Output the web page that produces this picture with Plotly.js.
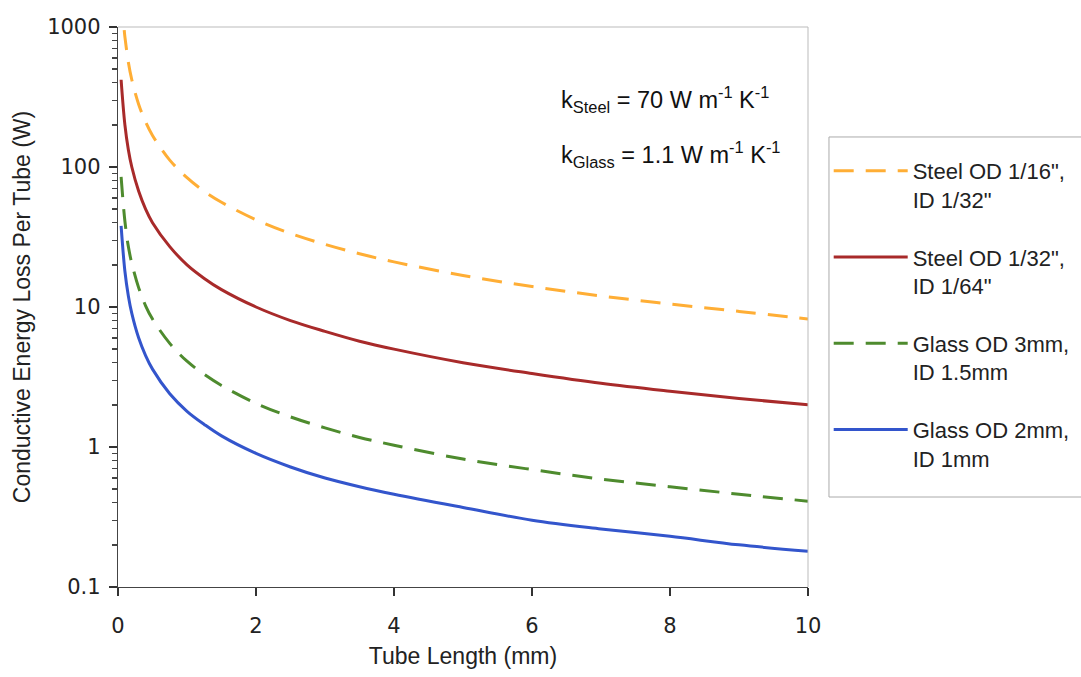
<!DOCTYPE html>
<html>
<head>
<meta charset="utf-8">
<script src="https://cdn.plot.ly/plotly-3.0.1.min.js"></script>
<style>html,body{margin:0;padding:0;background:#fff;}#chart{width:1081px;height:677px;}</style>
</head>
<body>
<div id="chart"></div>
<script>
// Tube length (mm)
const xSteel16 = [0.09, 0.1, 0.15, 0.2, 0.3, 0.4, 0.5, 0.75, 1, 1.25, 1.5, 2, 2.5, 3, 3.5, 4, 5, 6, 7, 8, 9, 10];
const xOther   = [0.045, 0.1, 0.15, 0.2, 0.3, 0.4, 0.5, 0.75, 1, 1.25, 1.5, 2, 2.5, 3, 3.5, 4, 5, 6, 7, 8, 9, 10];
// Conductive energy loss per tube (W)
const steel16 = [950, 850, 560, 420, 280, 210, 168, 112, 84, 67, 56, 42, 33.5, 28, 24, 21, 16.8, 14, 12, 10.5, 9.3, 8.2];
const steel32 = [420, 200, 133, 100, 67, 50, 40, 27, 20, 16, 13.3, 10, 8, 6.7, 5.7, 5, 4, 3.35, 2.85, 2.5, 2.22, 2.0];
const glass3  = [85, 41, 27, 20.5, 13.7, 10.2, 8.2, 5.5, 4.1, 3.3, 2.75, 2.05, 1.64, 1.37, 1.17, 1.03, 0.82, 0.69, 0.59, 0.52, 0.46, 0.41];
const glass2  = [38, 18, 12, 9, 6, 4.5, 3.6, 2.4, 1.8, 1.45, 1.2, 0.9, 0.72, 0.6, 0.52, 0.46, 0.37, 0.3, 0.26, 0.23, 0.2, 0.18];
const seriesNames = ['Steel OD 1/16",<br>ID 1/32"', 'Steel OD 1/32",<br>ID 1/64"', 'Glass OD 3mm,<br>ID 1.5mm', 'Glass OD 2mm,<br>ID 1mm'];
const xTickVals = [0, 2, 4, 6, 8, 10];
const yTickVals = [0.1, 1, 10, 100, 1000];
const yTickText = ['0.1', '1', '10', '100', '1000'];
const yMinorVals = [0.2,0.3,0.4,0.5,0.6,0.7,0.8,0.9, 2,3,4,5,6,7,8,9, 20,30,40,50,60,70,80,90, 200,300,400,500,600,700,800,900];

const tickFont = {family: '"DejaVu Sans", sans-serif', size: 21, color: '#222'};
const textFamily = '"Liberation Sans", Arial, sans-serif';
const traces = [
  {x: xSteel16, y: steel16, name: seriesNames[0], legendgroup: 'a', mode: 'lines', line: {color: '#FFAE35', width: 3, dash: '20px,12px', shape: 'spline'}},
  {x: xOther, y: steel32, name: seriesNames[1], legendgroup: 'b', mode: 'lines', line: {color: '#A82A2A', width: 3, shape: 'spline'}},
  {x: xOther, y: glass3, name: seriesNames[2], legendgroup: 'c', mode: 'lines', line: {color: '#4E8B2E', width: 3, dash: '20px,12px', shape: 'spline'}},
  {x: xOther, y: glass2, name: seriesNames[3], legendgroup: 'd', mode: 'lines', line: {color: '#3355CC', width: 3, shape: 'spline'}},
  // invisible copy on the minor-tick axis so that axis gets drawn
  {x: xOther, y: glass2, yaxis: 'y2', mode: 'lines', line: {width: 0}, opacity: 0, showlegend: false, hoverinfo: 'skip'}
];
const layout = {
  width: 1081, height: 677,
  margin: {l: 118, r: 273, t: 27, b: 90, autoexpand: false},
  paper_bgcolor: '#fff', plot_bgcolor: '#fff',
  showlegend: true,
  legend: {
    x: 1.03, y: 0.7804, xanchor: 'left', yanchor: 'top',
    borderwidth: 0, bgcolor: 'rgba(0,0,0,0)',
    font: {family: textFamily, size: 22, color: '#222'},
    traceorder: 'grouped', tracegroupgap: 26,
    itemwidth: 74, valign: 'top'
  },
  xaxis: {
    range: [0, 10], tickvals: xTickVals, ticks: 'outside', ticklen: 8, tickwidth: 1.5, tickcolor: '#333',
    showline: true, linecolor: '#444', linewidth: 1.2, showgrid: false, zeroline: false,
    tickfont: tickFont, ticklabelstandoff: 12,
    title: {text: 'Tube Length (mm)', font: {family: textFamily, size: 23, color: '#222'}, standoff: 10}
  },
  yaxis: {
    type: 'log', range: [-1, 3], tickmode: 'array', tickvals: yTickVals, ticktext: yTickText,
    ticks: 'outside', ticklen: 8, tickwidth: 1.5, tickcolor: '#333',
    showline: true, linecolor: '#444', linewidth: 1.2, showgrid: false, zeroline: false,
    tickfont: tickFont, ticklabelstandoff: 4,
    title: {text: 'Conductive Energy Loss Per Tube (W)', font: {family: textFamily, size: 23, color: '#222'}, standoff: 10}
  },
  yaxis2: {
    type: 'log', range: [-1, 3], overlaying: 'y', side: 'left', anchor: 'x',
    tickmode: 'array', tickvals: yMinorVals, ticks: 'outside', ticklen: 5, tickwidth: 1.3, tickcolor: '#444',
    showticklabels: false, showline: false, showgrid: false, zeroline: false
  },
  shapes: [
    {type: 'line', xref: 'paper', yref: 'paper', x0: 0, x1: 1, y0: 1, y1: 1, line: {color: '#bbb', width: 1}},
    {type: 'line', xref: 'paper', yref: 'paper', x0: 1, x1: 1, y0: 0, y1: 1, line: {color: '#bbb', width: 1}},
    {type: 'rect', xref: 'paper', yref: 'paper', x0: 1.0304, x1: 1.45, y0: 0.1607, y1: 0.8036, line: {color: '#aaa', width: 1}}
  ],
  annotations: [
    {xref: 'paper', yref: 'paper', x: 0.639, y: 0.87, xanchor: 'left', yanchor: 'middle', showarrow: false,
     text: 'k<sub>Steel</sub> = 70 W m<sup>-1</sup> K<sup>-1</sup>', font: {family: textFamily, size: 23.5, color: '#111'}},
    {xref: 'paper', yref: 'paper', x: 0.639, y: 0.772, xanchor: 'left', yanchor: 'middle', showarrow: false,
     text: 'k<sub>Glass</sub> = 1.1 W m<sup>-1</sup> K<sup>-1</sup>', font: {family: textFamily, size: 23.5, color: '#111'}}
  ]
};
Plotly.newPlot('chart', traces, layout, {displayModeBar: false, staticPlot: true});
</script>
</body>
</html>
